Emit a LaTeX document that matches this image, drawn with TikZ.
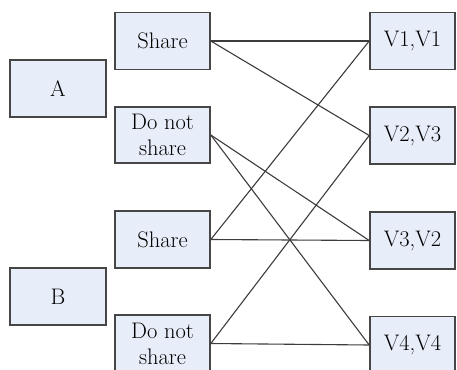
\documentclass[tikz,border=0pt]{standalone}
\definecolor{boxfill}{RGB}{232,238,249}
\definecolor{boxline}{RGB}{70,70,70}
\definecolor{wire}{RGB}{60,60,60}
\begin{document}
\begin{tikzpicture}[x=1pt,y=-1pt,
  box/.style={draw=boxline,line width=1.6pt,fill=boxfill,inner sep=0pt,
    align=center,font=\fontsize{22.5}{26}\selectfont,text=black},
  wirestyle/.style={draw=wire,line width=1.1pt}]
\useasboundingbox (0,0) rectangle (457,369);
\node[box,minimum width=96pt,minimum height=57pt] (A) at (58,88.5) {A};
\node[box,minimum width=96pt,minimum height=57pt] (B) at (58,296.5) {B};
\node[box,minimum width=95pt,minimum height=57pt] (sA) at (162.5,41) {Share};
\node[box,minimum width=95pt,minimum height=56pt] (dA) at (162.5,135) {Do not\\share};
\node[box,minimum width=95pt,minimum height=57pt] (sB) at (162.5,239.5) {Share};
\node[box,minimum width=95pt,minimum height=57pt] (dB) at (162.5,343.5) {Do not\\share};
\node[box,minimum width=85pt,minimum height=57pt] (V1) at (412.5,41) {V1,V1};
\node[box,minimum width=85pt,minimum height=57pt] (V2) at (412.5,135.5) {V2,V3};
\node[box,minimum width=85pt,minimum height=57pt] (V3) at (412.5,240.5) {V3,V2};
\node[box,minimum width=85pt,minimum height=57pt] (V4) at (412.5,345) {V4,V4};
\draw[wirestyle] (sA.east) -- (V1.west);
\draw[wirestyle] (sA.east) -- (V2.west);
\draw[wirestyle] (dA.east) -- (V3.west);
\draw[wirestyle] (dA.east) -- (V4.west);
\draw[wirestyle] (sB.east) -- (V1.west);
\draw[wirestyle] (sB.east) -- (V3.west);
\draw[wirestyle] (dB.east) -- (V2.west);
\draw[wirestyle] (dB.east) -- (V4.west);
\end{tikzpicture}
\end{document}
